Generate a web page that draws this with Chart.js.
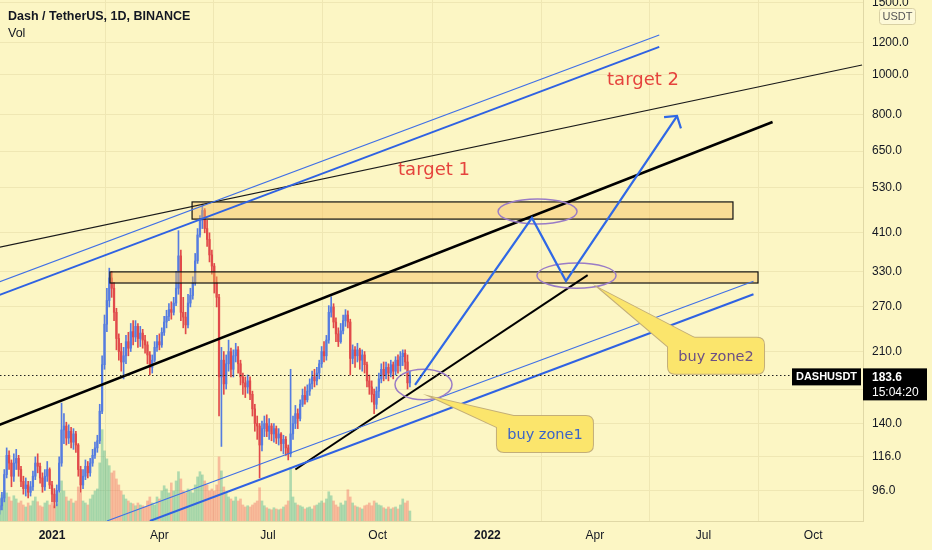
<!DOCTYPE html>
<html>
<head>
<meta charset="utf-8">
<title>Dash / TetherUS, 1D</title>
<script src="https://cdn.jsdelivr.net/npm/chart.js@4.4.1/dist/chart.umd.min.js"></script>
<style>
html, body { margin: 0; padding: 0; background: #fcf6c4; }
#wrap { width: 932px; height: 550px; }
</style>
</head>
<body>
<div id="wrap"><canvas id="dashchart" width="932" height="550"></canvas></div>
<script>
(function () {
 "use strict";

	/*----------------------------------------*/
	/*  1.  data (2-day candles, day 0 = 1 Jan 2021)
	/*----------------------------------------*/
	var firstDay = -44;
	var dayStep = 2;
	var firstOpen = 86;

	var closes = [
		88, 92, 105, 117, 112, 104, 112, 115, 108, 101,
		97, 99, 95, 98, 104, 112, 110, 103, 98, 104,
		108, 99, 94, 90, 96, 112, 135, 138, 129, 134,
		126, 132, 124, 108, 99, 104, 110, 106, 112, 117,
		122, 127, 150, 195, 245, 280, 318, 300, 262, 226,
		210, 198, 205, 222, 214, 235, 228, 242, 226, 233,
		224, 218, 206, 192, 200, 215, 222, 218, 234, 248,
		256, 266, 262, 276, 300, 360, 262, 255, 244, 276,
		288, 310, 350, 405, 440, 465, 420, 395, 362, 340,
		310, 285, 182, 200, 175, 196, 210, 190, 205, 212,
		196, 182, 176, 172, 178, 165, 152, 140, 138, 124,
		136, 140, 134, 138, 132, 136, 129, 132, 125, 128,
		122, 118, 132, 140, 148, 144, 156, 164, 160, 168,
		175, 182, 178, 186, 196, 210, 205, 224, 262, 270,
		248, 232, 222, 236, 250, 258, 248, 202, 212, 205,
		212, 200, 206, 195, 178, 172, 165, 156, 168, 180,
		190, 184, 192, 186, 195, 188, 200, 194, 204, 208,
		198, 176, 183.6
	];
	var highs = [
		92, 95, 108, 122, 120, 114, 118, 121, 117, 110,
		104, 103, 101, 101, 107, 116, 118, 112, 106, 108,
		113, 109, 101, 97, 99, 116, 157, 148, 141, 139,
		137, 136, 134, 125, 110, 108, 114, 113, 115, 121,
		126, 131, 156, 205, 258, 300, 336, 330, 310, 268,
		232, 220, 215, 230, 234, 246, 250, 250, 246, 242,
		238, 230, 222, 210, 206, 222, 230, 232, 240, 256,
		265, 275, 278, 285, 330, 415, 372, 285, 262, 290,
		300, 320, 365, 420, 452, 482, 470, 440, 410, 372,
		345, 320, 290, 215, 210, 206, 224, 214, 212, 220,
		216, 200, 186, 182, 184, 182, 168, 156, 146, 140,
		142, 146, 147, 144, 140, 140, 138, 136, 133, 131,
		130, 124, 190, 146, 155, 152, 160, 170, 172, 174,
		180, 188, 190, 192, 200, 216, 222, 230, 272, 286,
		275, 254, 240, 246, 258, 266, 264, 252, 218, 216,
		220, 214, 212, 210, 198, 184, 178, 170, 172, 186,
		196, 198, 198, 196, 200, 198, 204, 206, 210, 212,
		212, 206, 188
	];
	var lows = [
		84, 86, 90, 103, 108, 98, 101, 108, 104, 98,
		94, 93, 92, 93, 96, 102, 106, 100, 95, 96,
		101, 97, 90, 87, 88, 95, 110, 125, 124, 125,
		122, 121, 119, 104, 95, 97, 102, 103, 104, 110,
		115, 119, 125, 148, 190, 235, 270, 285, 250, 212,
		200, 188, 180, 196, 205, 210, 218, 222, 215, 216,
		214, 208, 196, 184, 186, 198, 210, 212, 215, 230,
		240, 250, 252, 258, 272, 290, 250, 240, 232, 240,
		270, 282, 305, 345, 400, 420, 410, 380, 348, 325,
		292, 270, 146, 123, 165, 170, 188, 182, 182, 198,
		186, 174, 165, 162, 166, 160, 146, 134, 128, 103,
		120, 130, 130, 128, 127, 126, 125, 124, 120, 118,
		117, 114, 116, 128, 136, 136, 142, 154, 156, 158,
		164, 170, 172, 174, 180, 192, 198, 200, 220, 255,
		240, 222, 216, 220, 232, 242, 240, 184, 196, 192,
		198, 190, 188, 186, 172, 165, 158, 148, 152, 162,
		176, 178, 180, 178, 182, 180, 184, 186, 188, 194,
		190, 170, 172
	];
	// thousand DASH
	var volumes = [
		55, 65, 75, 70, 60, 50, 63, 55, 45, 50,
		40, 35, 45, 38, 50, 60, 48, 38, 35, 45,
		50, 40, 45, 38, 43, 70, 100, 75, 60, 50,
		55, 45, 50, 85, 70, 50, 45, 40, 55, 65,
		75, 80, 145, 228, 175, 155, 138, 120, 125, 105,
		90, 75, 65, 55, 50, 45, 43, 38, 45, 40,
		38, 35, 50, 60, 45, 40, 60, 55, 75, 88,
		80, 70, 95, 75, 100, 123, 105, 75, 70, 80,
		75, 70, 90, 110, 123, 115, 100, 90, 75, 80,
		75, 90, 160, 125, 85, 70, 60, 55, 50, 60,
		50, 55, 40, 35, 38, 35, 40, 45, 50, 83,
		50, 38, 33, 30, 28, 33, 30, 28, 30, 35,
		40, 50, 133, 60, 45, 40, 38, 35, 30, 33,
		35, 30, 38, 40, 45, 50, 45, 55, 73, 63,
		50, 40, 35, 45, 40, 50, 78, 60, 45, 38,
		35, 33, 30, 38, 40, 45, 38, 50, 45, 40,
		38, 33, 30, 35, 30, 33, 35, 30, 40, 55,
		45, 50, 25
	];

	var tickDays = [0, 90, 181, 273, 365, 455, 546, 638];
	var tickLabels = ["2021", "Apr", "Jul", "Oct", "2022", "Apr", "Jul", "Oct"];
	var priceTicks = [96, 116, 140, 170, 210, 270, 330, 410, 530, 650, 800, 1000, 1200, 1500];
	var lastPrice = 183.6;
	var lastTime = "15:04:20";

	/*----------------------------------------*/
	/*  2.  drawings, in [day, price]
	/*----------------------------------------*/
	var longTrend = [[-44, 378], [679, 1056]];
	var upperBlueThin = [[-44, 311], [509, 1250]];
	var upperBlueThick = [[-44, 289], [509, 1169]];
	var channelLine = [[-44, 139], [604, 766]];
	var supportLine = [[204, 108], [449, 323]];
	var lowerBlueThin = [[46, 80.8], [588, 312]];
	var lowerBlueThick = [[82, 80.8], [588, 290]];
	// [day from, day to, price low, price high]
	var upperZone = [117.4, 570.8, 443, 488];
	var lowerZone = [48.6, 591.8, 309, 329];
	var circleTop = [373.9, 440.1, 431, 496];
	var circleMid = [406.5, 472.8, 300, 346];
	var circleLow = [287.5, 335.3, 160, 190];
	var pathPoints = [[304.3, 174], [402.3, 446], [430.8, 312.5], [523.9, 792]];
	var target1 = [320.2, 584];
	var target2 = [495.4, 970];
	var buyZone1 = { at: [413.2, 132], tip: [318.5, 162.5], text: "buy zone1" };
	var buyZone2 = { at: [556.6, 205], tip: [459.3, 299], text: "buy zone2" };

	var bgColor = '#fcf6c4';
	var upColor = '#557ce0';
	var downColor = '#e14a4a';

	var days = closes.map(function (c, i) { return firstDay + i * dayStep; });
	var opens = closes.map(function (c, i) { return i === 0 ? firstOpen : closes[i - 1]; });
	var candleColors = closes.map(function (c, i) { return c >= opens[i] ? upColor : downColor; });
	var volColors = closes.map(function (c, i) {
		return c >= opens[i] ? 'rgba(38, 166, 130, 0.36)' : 'rgba(239, 83, 80, 0.36)';
	});

	/*----------------------------------------*/
	/*  3.  drawing plugin
	/*----------------------------------------*/
	var drawings = {
		id: 'drawings',
		beforeDraw: function (chart) {
			var c = chart.ctx;
			c.save();
			c.fillStyle = bgColor;
			c.fillRect(0, 0, chart.width, chart.height);
			c.restore();
		},
		afterDatasetsDraw: function (chart) {
			var c = chart.ctx, a = chart.chartArea;
			var xs = chart.scales.x, ys = chart.scales.y;
			function P(pt) { return [xs.getPixelForValue(pt[0]), ys.getPixelForValue(pt[1])]; }
			function line(seg, color, w) {
				var p1 = P(seg[0]), p2 = P(seg[1]);
				c.beginPath();
				c.moveTo(p1[0], p1[1]);
				c.lineTo(p2[0], p2[1]);
				c.strokeStyle = color;
				c.lineWidth = w;
				c.stroke();
			}
			function zone(z) {
				var p1 = P([z[0], z[3]]), p2 = P([z[1], z[2]]);
				c.fillStyle = 'rgba(246, 186, 86, 0.42)';
				c.fillRect(p1[0], p1[1], p2[0] - p1[0], p2[1] - p1[1]);
				c.strokeStyle = '#111';
				c.lineWidth = 1.2;
				c.strokeRect(p1[0], p1[1], p2[0] - p1[0], p2[1] - p1[1]);
			}
			function ellipse(z) {
				var p1 = P([z[0], z[3]]), p2 = P([z[1], z[2]]);
				c.beginPath();
				c.ellipse((p1[0] + p2[0]) / 2, (p1[1] + p2[1]) / 2, (p2[0] - p1[0]) / 2, (p2[1] - p1[1]) / 2, 0, 0, Math.PI * 2);
				c.strokeStyle = '#9a7cc6';
				c.lineWidth = 1.5;
				c.stroke();
			}
			function roundRect(x, y, w, h, r) {
				c.beginPath();
				c.moveTo(x + r, y);
				c.lineTo(x + w - r, y);
				c.quadraticCurveTo(x + w, y, x + w, y + r);
				c.lineTo(x + w, y + h - r);
				c.quadraticCurveTo(x + w, y + h, x + w - r, y + h);
				c.lineTo(x + r, y + h);
				c.quadraticCurveTo(x, y + h, x, y + h - r);
				c.lineTo(x, y + r);
				c.quadraticCurveTo(x, y, x + r, y);
				c.closePath();
			}
			function callout(o, textColor) {
				var ctr = P(o.at), tip = P(o.tip);
				var w = 96, h = 36;
				var bx = ctr[0] - w / 2, by = ctr[1] - h / 2;
				var b1 = [bx + 6, by + 14], b2 = [bx + 34, by + 4];
				c.strokeStyle = '#c3ae78';
				c.lineWidth = 2;
				c.beginPath();
				c.moveTo(b1[0], b1[1]); c.lineTo(tip[0], tip[1]); c.lineTo(b2[0], b2[1]);
				c.stroke();
				roundRect(bx, by, w, h, 7);
				c.stroke();
				c.fillStyle = '#fbe56c';
				c.beginPath();
				c.moveTo(b1[0], b1[1]); c.lineTo(tip[0], tip[1]); c.lineTo(b2[0], b2[1]);
				c.closePath();
				c.fill();
				roundRect(bx, by, w, h, 7);
				c.fill();
				c.fillStyle = textColor;
				c.font = '14.5px "DejaVu Sans"';
				c.textAlign = 'center';
				c.textBaseline = 'middle';
				c.fillText(o.text, ctr[0], ctr[1] + 1);
			}

			c.save();
			c.beginPath();
			c.rect(a.left, a.top, a.right - a.left, a.bottom - a.top);
			c.clip();

			zone(upperZone);
			zone(lowerZone);

			line(longTrend, '#1a1a1a', 1.2);
			line(upperBlueThin, '#3f6fe6', 1.1);
			line(upperBlueThick, '#2f62e2', 2);
			line(channelLine, '#000', 2.6);
			line(supportLine, '#000', 2);
			line(lowerBlueThin, '#3f6fe6', 1.1);
			line(lowerBlueThick, '#2f62e2', 2);

			ellipse(circleTop);
			ellipse(circleMid);
			ellipse(circleLow);

			// projected path with arrow head
			c.beginPath();
			pathPoints.forEach(function (pt, i) {
				var p = P(pt);
				if (i === 0) c.moveTo(p[0], p[1]); else c.lineTo(p[0], p[1]);
			});
			c.strokeStyle = '#2f68e6';
			c.lineWidth = 2.2;
			c.lineJoin = 'miter';
			c.stroke();
			var tipP = P(pathPoints[pathPoints.length - 1]);
			var prevP = P(pathPoints[pathPoints.length - 2]);
			var ang = Math.atan2(prevP[1] - tipP[1], prevP[0] - tipP[0]);
			c.beginPath();
			c.moveTo(tipP[0] + 13 * Math.cos(ang + 0.9), tipP[1] + 13 * Math.sin(ang + 0.9));
			c.lineTo(tipP[0], tipP[1]);
			c.lineTo(tipP[0] + 13 * Math.cos(ang - 0.9), tipP[1] + 13 * Math.sin(ang - 0.9));
			c.stroke();

			// targets
			c.fillStyle = '#e5433d';
			c.font = '18px "DejaVu Sans"';
			c.textAlign = 'center';
			c.textBaseline = 'middle';
			var t1 = P(target1), t2 = P(target2);
			c.fillText('target 1', t1[0], t1[1]);
			c.fillText('target 2', t2[0], t2[1]);

			callout(buyZone1, '#3b63c8');
			callout(buyZone2, '#6b4f86');

			// last price line
			var py = ys.getPixelForValue(lastPrice);
			c.setLineDash([1.5, 2.5]);
			c.strokeStyle = '#222';
			c.lineWidth = 1;
			c.beginPath();
			c.moveTo(a.left, Math.round(py) + 0.5);
			c.lineTo(a.right - 71, Math.round(py) + 0.5);
			c.stroke();
			c.setLineDash([]);
			c.restore();

			c.save();
			c.fillStyle = '#000';
			c.fillRect(a.right - 71, py - 7, 69, 17);
			c.fillStyle = '#fff';
			c.font = 'bold 11px "Liberation Sans"';
			c.textAlign = 'center';
			c.textBaseline = 'middle';
			c.fillText('DASHUSDT', a.right - 36.5, py + 1.5);

			c.fillStyle = '#000';
			c.fillRect(a.right, py - 7, 64, 32);
			c.fillStyle = '#fff';
			c.textAlign = 'left';
			c.font = 'bold 12px "Liberation Sans"';
			c.fillText(lastPrice.toFixed(1), a.right + 9, py + 2);
			c.font = '12px "Liberation Sans"';
			c.fillText(lastTime, a.right + 9, py + 17);

			// currency badge
			c.fillStyle = 'rgba(255, 255, 255, 0.35)';
			c.strokeStyle = '#d9d1a4';
			c.lineWidth = 1;
			roundRect(a.right + 16.5, 8.5, 36, 16, 3);
			c.fill();
			c.stroke();
			c.fillStyle = '#555';
			c.font = '11px "Liberation Sans"';
			c.textAlign = 'center';
			c.fillText('USDT', a.right + 34.5, 17);

			// legend text
			c.textAlign = 'left';
			c.fillStyle = '#131722';
			c.font = 'bold 12.5px "Liberation Sans"';
			c.fillText('Dash / TetherUS, 1D, BINANCE', 8, 17);
			c.font = '12.5px "Liberation Sans"';
			c.fillText('Vol', 8, 34);
			c.restore();
		}
	};

	/*----------------------------------------*/
	/*  4.  chart
	/*----------------------------------------*/
	var ctx = document.getElementById("dashchart");
	var dashchart = new Chart(ctx, {
		type: 'bar',
		data: {
			datasets: [{
				label: 'Vol',
				yAxisID: 'vol',
				data: days.map(function (d, i) { return { x: d, y: volumes[i] }; }),
				backgroundColor: volColors,
				barThickness: 2,
				grouped: false,
				order: 3
			}, {
				label: 'Wick',
				yAxisID: 'y',
				data: days.map(function (d, i) { return { x: d, y: [lows[i], highs[i]] }; }),
				backgroundColor: candleColors,
				barThickness: 1,
				grouped: false,
				order: 2
			}, {
				label: 'Body',
				yAxisID: 'y',
				data: days.map(function (d, i) {
					return { x: d, y: [Math.min(opens[i], closes[i]), Math.max(opens[i], closes[i])] };
				}),
				backgroundColor: candleColors,
				barThickness: 1.6,
				minBarLength: 1,
				grouped: false,
				order: 1
			}]
		},
		options: {
			responsive: false,
			animation: false,
			events: [],
			layout: { padding: 0 },
			plugins: {
				legend: { display: false },
				tooltip: { enabled: false },
				title: { display: false }
			},
			scales: {
				x: {
					type: 'linear',
					position: 'bottom',
					min: -43.6,
					max: 679.8,
					offset: false,
					afterBuildTicks: function (s) {
						s.ticks = tickDays.map(function (v) { return { value: v }; });
					},
					afterFit: function (s) {
						s.height = 29;
						s.paddingLeft = 0;
						s.paddingRight = 0;
					},
					ticks: {
						autoSkip: false,
						maxRotation: 0,
						padding: 7,
						color: '#131722',
						font: function (c) {
							var bold = c.tick && (c.tick.value === 0 || c.tick.value === 365);
							return { family: 'Liberation Sans', size: 12, weight: bold ? 'bold' : 'normal' };
						},
						callback: function (v) {
							var k = tickDays.indexOf(v);
							return k < 0 ? '' : tickLabels[k];
						}
					},
					grid: { color: '#efe7b3', drawTicks: false },
					border: { color: '#e0d8a6' }
				},
				y: {
					type: 'logarithmic',
					position: 'right',
					min: 80.8,
					max: 1523,
					afterBuildTicks: function (s) {
						s.ticks = priceTicks.map(function (v) { return { value: v }; });
					},
					afterFit: function (s) {
						s.width = 69;
						s.paddingTop = 0;
						s.paddingBottom = 0;
					},
					ticks: {
						autoSkip: false,
						padding: 9,
						color: '#131722',
						font: { family: 'Liberation Sans', size: 12 },
						callback: function (v) { return Number(v).toFixed(1); }
					},
					grid: { color: '#efe7b3', drawTicks: false },
					border: { color: '#e0d8a6' }
				},
				vol: {
					type: 'linear',
					display: false,
					min: 0,
					max: 1300
				}
			}
		},
		plugins: [drawings]
	});

})();
</script>
</body>
</html>
